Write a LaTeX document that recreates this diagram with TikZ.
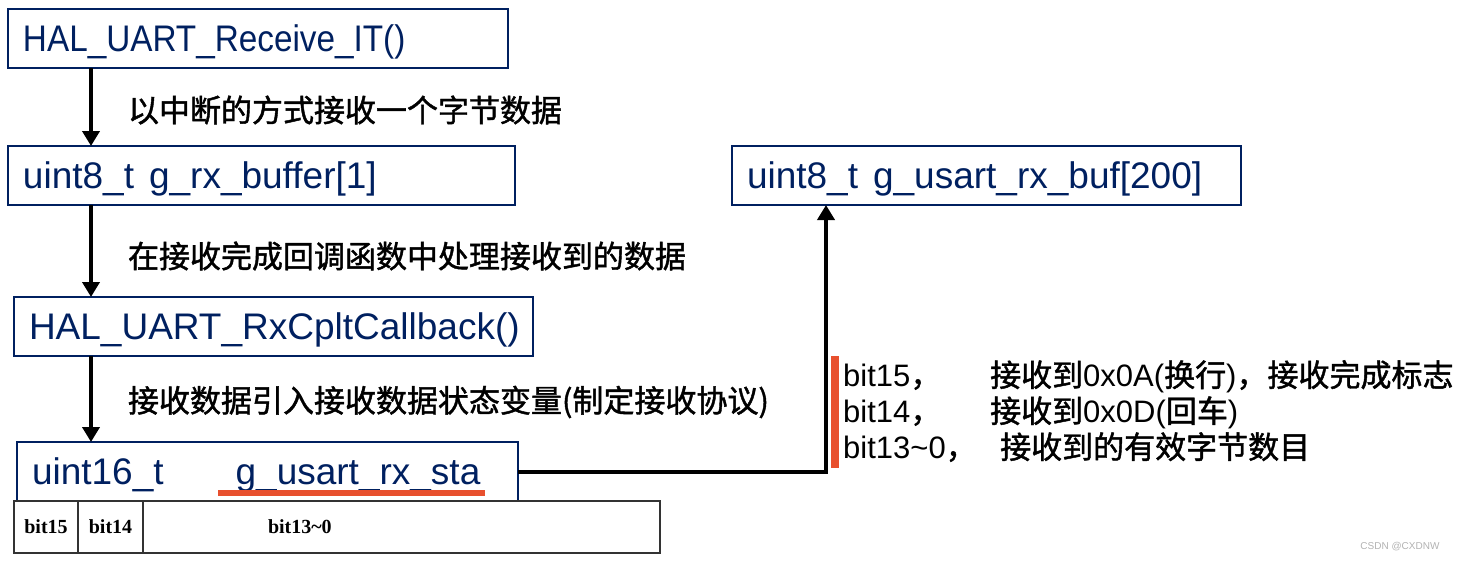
\documentclass[tikz,border=0pt]{standalone}
\usepackage{fontspec}
\setmainfont{Liberation Sans}
\newfontfamily\cjk{Noto Sans CJK SC}[FakeBold=1.4]
\newfontfamily\tabfont{Liberation Serif}
\usetikzlibrary{positioning,arrows.meta}

\definecolor{navy}{RGB}{0,32,96}
\definecolor{markred}{RGB}{232,80,46}
\definecolor{cellgray}{RGB}{51,51,51}

\tikzset{
    varbox/.style={rectangle, draw=navy, line width=2.5pt, text=navy, outer sep=0pt,
        font=\fontsize{37}{40}\selectfont, align=left, inner xsep=15pt, inner ysep=0pt,
        minimum height=59pt, text height=26pt, text depth=0pt},
    bitcell/.style={rectangle, draw=cellgray, line width=1.5pt, outer sep=0pt, inner sep=0pt,
        font=\tabfont\bfseries\fontsize{20}{22}\selectfont, minimum height=52pt},
    flow/.style={-{Triangle[width=17pt,length=15pt]}, line width=4pt},
    hint/.style={font=\cjk\fontsize{31}{36}\selectfont, inner sep=0pt}
}

\begin{document}
\begin{tikzpicture}[x=1pt, y=-1pt]
    \useasboundingbox (0,0) rectangle (1458,560);

    % Functions and variables
    \node (rxit) [varbox, text width=470pt, anchor=north west] at (8,9) {\scalebox{0.9}[1]{HAL\_UART\_Receive\_IT()}};
    \node (rxbuffer) [varbox, text width=477pt, below=78pt of rxit.south west, anchor=north west] {uint8\_t\hspace{15pt}g\_rx\_buffer[1]};
    \node (callback) [varbox, text width=489pt, below=92pt of rxbuffer.south west, anchor=north west, xshift=6pt] {HAL\_UART\_RxCpltCallback()};
    \node (sta) [varbox, text width=471pt, below=86pt of callback.south west, anchor=north west, xshift=3pt] {uint16\_t\hspace{72pt}g\_usart\_rx\_sta};
    \node (rxbuf) [varbox, text width=479pt, right=217pt of rxbuffer.north east, anchor=north west] {uint8\_t\hspace{15pt}g\_usart\_rx\_buf[200]};

    % Bit fields of g_usart_rx_sta
    \node (b15) [bitcell, minimum width=64pt, below=0pt of sta.south west, anchor=north west, xshift=-3pt] {bit15};
    \node (b14) [bitcell, minimum width=65pt, right=0pt of b15] {bit14};
    \node (b13) [bitcell, right=0pt of b14, inner xsep=125pt, text width=267pt, align=left] {bit13\textasciitilde0};
    \fill[markred] (218,490) rectangle (485,496);

    % Flow
    \coordinate (spine) at (91,0);
    \draw[flow] (rxit.south -| spine) -- node[hint, right=35pt, yshift=-3pt] {以中断的方式接收一个字节数据} (rxbuffer.north -| spine);
    \draw[flow] (rxbuffer.south -| spine) -- node[hint, right=35pt, yshift=-5pt] {在接收完成回调函数中处理接收到的数据} (callback.north -| spine);
    \draw[flow] (callback.south -| spine) -- node[hint, right=35pt, yshift=-3pt] {接收数据引入接收数据状态变量(制定接收协议)} (sta.north -| spine);

    \coordinate (tap) at (826,0);
    \draw[flow] (sta.east) -| (rxbuf.south -| tap);

    % Meaning of the bits
    \fill[markred] (831,356) rectangle (839,468);
    \node (notes) [anchor=west, align=left, inner sep=0pt, font=\fontsize{31}{36}\selectfont] at (843,411) {
        \makebox[147pt][l]{bit15{\cjk ，}}{\cjk 接收到}0x0A({\cjk 换行}){\cjk ，接收完成标志}\\
        \makebox[147pt][l]{bit14{\cjk ，}}{\cjk 接收到}0x0D({\cjk 回车})\\
        \makebox[157pt][l]{bit13\textasciitilde0{\cjk ，}}{\cjk 接收到的有效字节数目}
    };

    \node (mark) [anchor=east, text=gray!60, font=\fontsize{10}{12}\selectfont] at (1443,547) {CSDN @CXDNW};
\end{tikzpicture}
\end{document}
